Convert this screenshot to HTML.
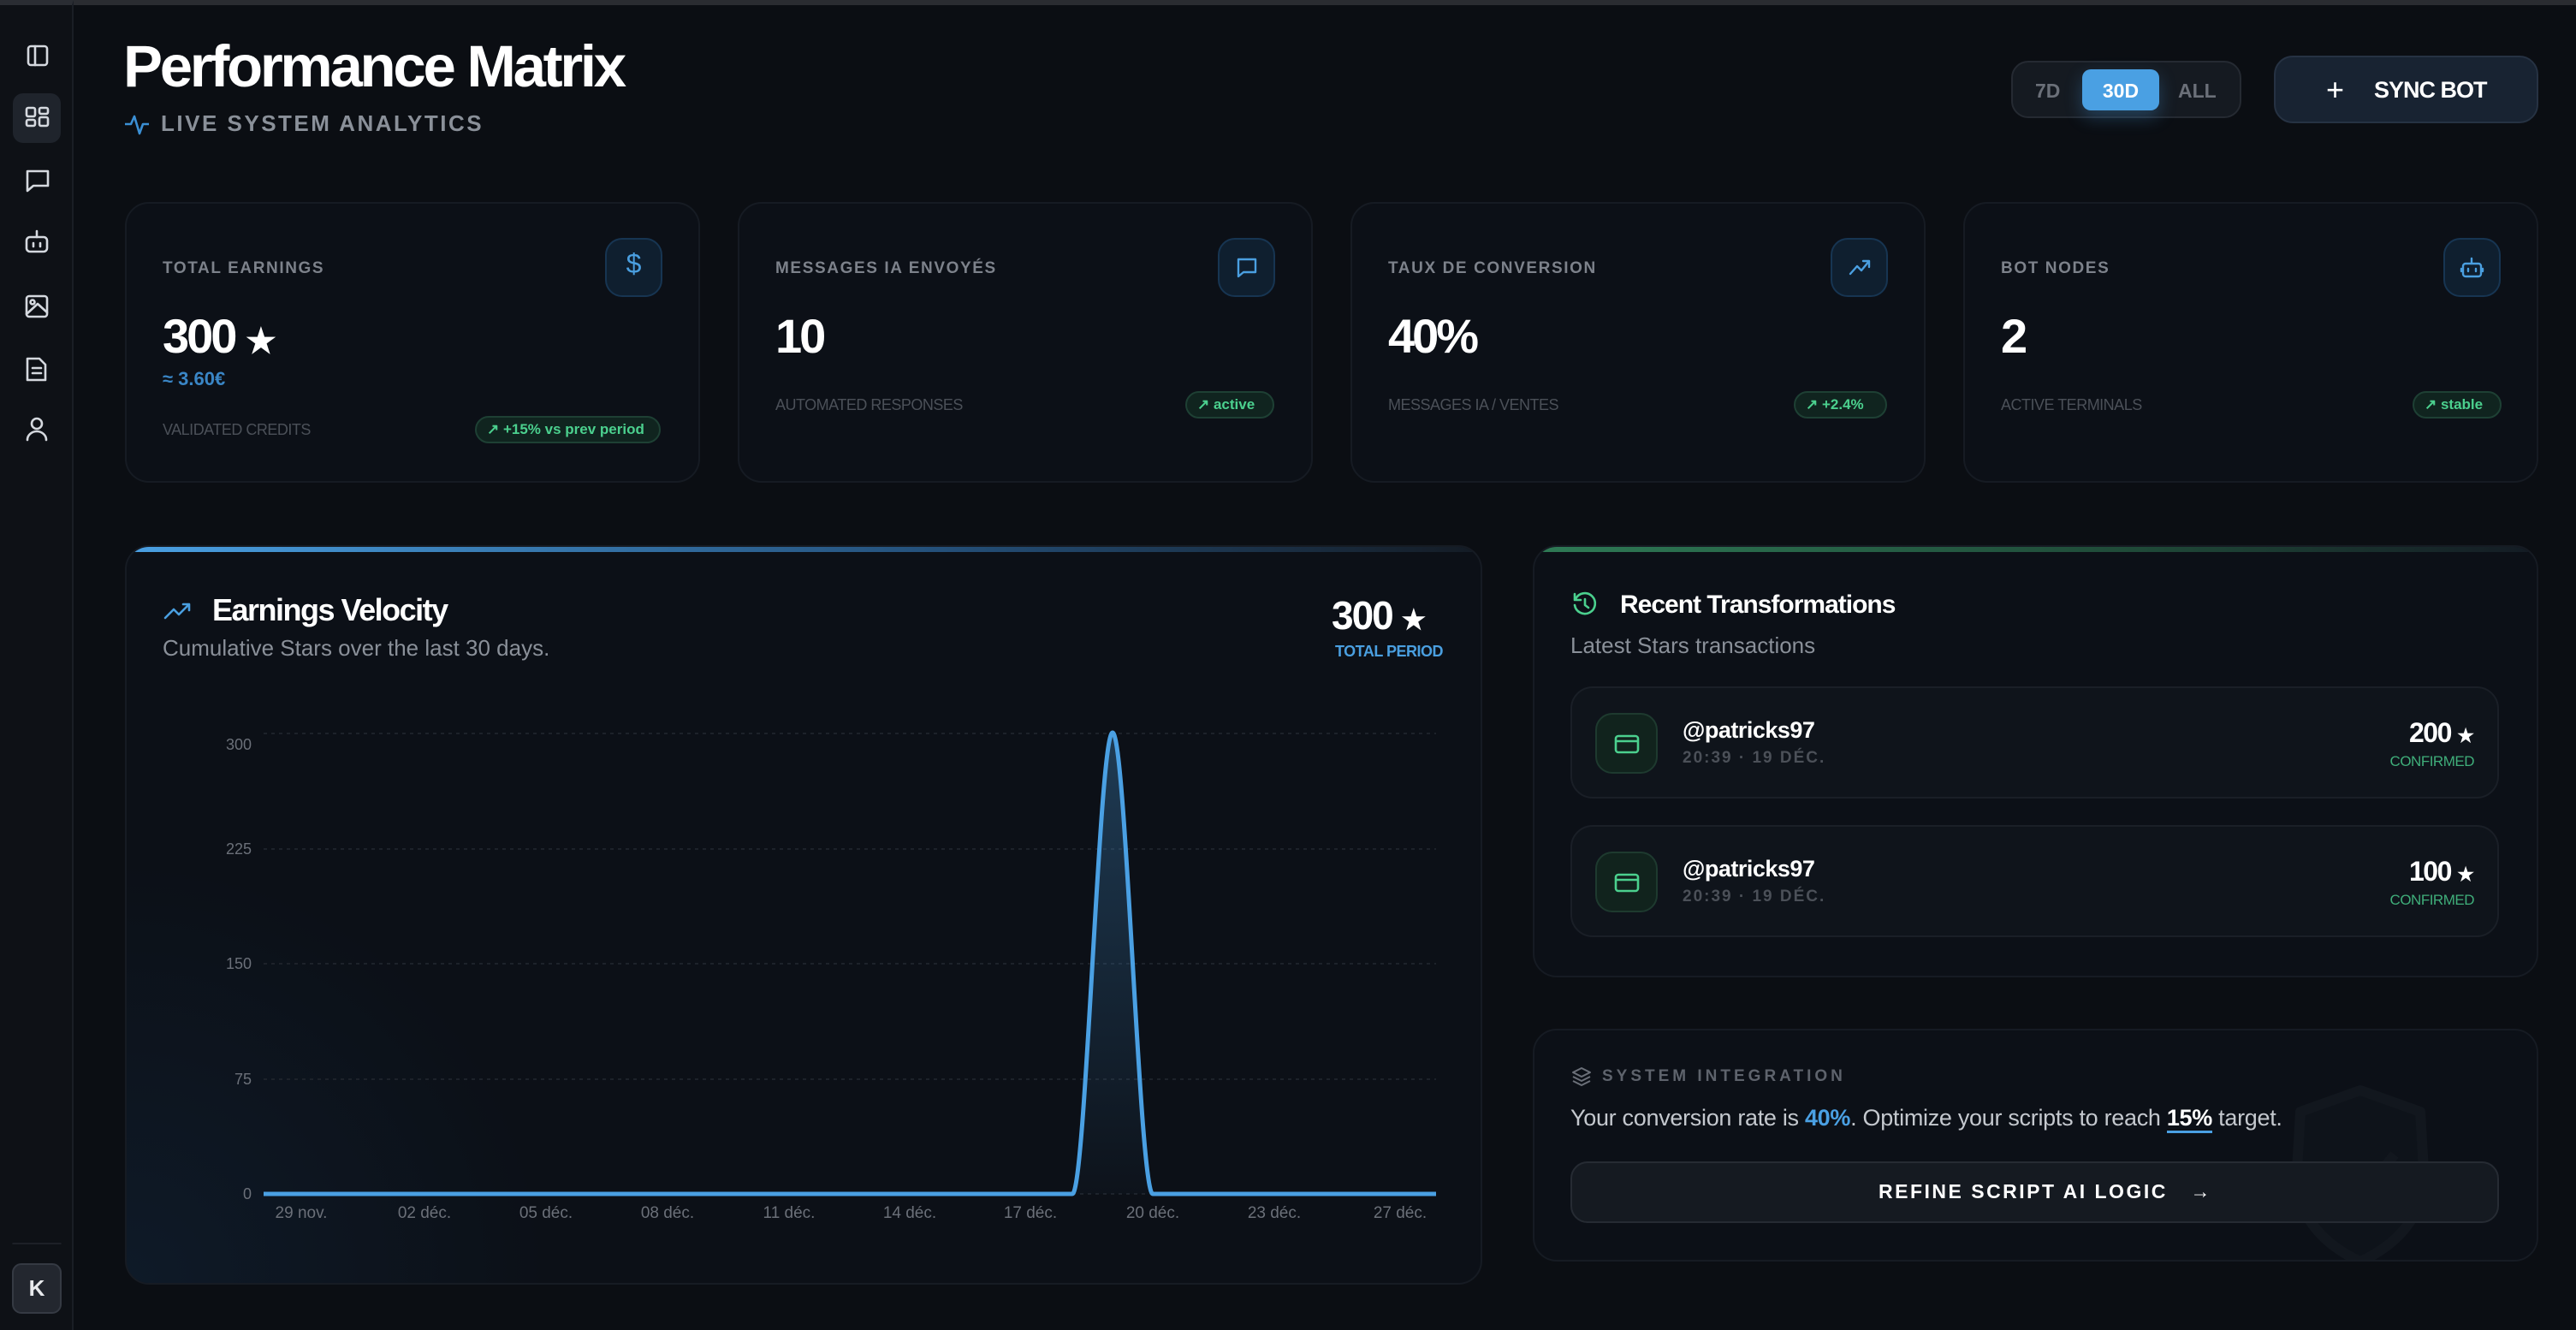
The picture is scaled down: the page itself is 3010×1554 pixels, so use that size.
<!DOCTYPE html>
<html><head><meta charset="utf-8"><style>
*{margin:0;padding:0;box-sizing:border-box}
body{width:3010px;height:1554px;background:#0b0e13;font-family:"Liberation Sans",sans-serif;position:relative;overflow:hidden;color:#fff}
.a{position:absolute}
.side{left:0;top:0;width:86px;height:1554px;background:#0e1116;border-right:2px solid #1a1e25;border-top:6px solid #2a2d33}
.topbar{left:0;top:0;width:3010px;height:6px;background:#2a2c31}
.card{position:absolute;background:#0c1017;border:2px solid #161b23;border-radius:28px}
.lbl{font-size:19px;font-weight:700;letter-spacing:1.6px;color:#7d828b}
.val{font-size:56px;font-weight:900;letter-spacing:-3px;color:#fff}
.foot{font-size:18px;color:#4b5058;letter-spacing:-0.5px}
.badge{position:absolute;height:32px;border-radius:16px;background:#10241f;border:2px solid #1e4034;color:#4bd08e;font-size:17px;font-weight:700;padding:0 12px;line-height:28px;white-space:nowrap}
.ib{position:absolute;width:67px;height:69px;border-radius:20px;background:#0f1f2f;border:2px solid #173552}
.tx{position:absolute;left:1835px;width:1085px;height:131px;background:#0f141b;border:2px solid #1a1f27;border-radius:26px}
</style></head><body>
<div class="a topbar"></div>
<div class="a side"></div>
<svg class="a" style="left:0;top:0" width="86" height="1554" fill="none" stroke="#d5d9df" stroke-width="2.6" stroke-linecap="round" stroke-linejoin="round">
<rect x="33" y="54" width="22" height="22" rx="3"/><line x1="41" y1="54" x2="41" y2="76"/>
<rect x="15" y="109" width="56" height="58" rx="12" fill="#1f242c" stroke="none"/>
<rect x="31" y="126" width="10" height="10" rx="2"/><rect x="46" y="126" width="10" height="7" rx="2"/><rect x="31" y="140" width="10" height="7" rx="2"/><rect x="46" y="137" width="10" height="10" rx="2"/>
<path d="M32 200 h24 v17 h-17 l-7 6 z"/>
<rect x="31" y="277" width="24" height="17" rx="4"/><line x1="43" y1="270" x2="43" y2="277"/><line x1="39" y1="284" x2="39" y2="288"/><line x1="47" y1="284" x2="47" y2="288"/>
<rect x="31" y="346" width="24" height="24" rx="3"/><circle cx="38" cy="353" r="2.5"/><path d="M31 367 l13-12 11 10"/>
<path d="M32 419 h14 l7 7 v18 h-21 z"/><line x1="38" y1="430" x2="48" y2="430"/><line x1="38" y1="436" x2="48" y2="436"/>
<circle cx="43" cy="495" r="6"/><path d="M32 514 a11 10 0 0 1 22 0"/>
<line x1="15" y1="1453" x2="71" y2="1453" stroke="#22262d" stroke-width="1.5"/>
<rect x="15" y="1477" width="56" height="57" rx="10" fill="#23272f" stroke="#353a43" stroke-width="2"/>
</svg>
<div class="a" style="left:15px;top:1477px;width:56px;height:57px;text-align:center;line-height:57px;font-size:26px;font-weight:700;color:#e8eaed">K</div>

<div class="a" style="left:144px;top:38px;font-size:69px;font-weight:900;letter-spacing:-3.3px;color:#fff">Performance Matrix</div>
<svg class="a" style="left:144px;top:130px" width="32" height="30" fill="none" stroke="#3b8fd4" stroke-width="2.6" stroke-linejoin="round"><path d="M2 15 h7 l4-9 6 20 4-11 h7"/></svg>
<div class="a" style="left:188px;top:129px;font-size:26px;font-weight:700;letter-spacing:2.5px;color:#8a9099">LIVE SYSTEM ANALYTICS</div>

<div class="a" style="left:2350px;top:71px;width:269px;height:67px;border-radius:20px;background:#151a21;border:2px solid #252a32"></div>
<div class="a" style="left:2433px;top:81px;width:90px;height:48px;border-radius:10px;background:#4aa0e3;box-shadow:0 8px 20px rgba(74,160,227,0.3)"></div>
<div class="a" style="left:2378px;top:93px;font-size:23px;font-weight:700;color:#6b7079">7D</div>
<div class="a" style="left:2433px;top:93px;width:90px;text-align:center;font-size:23px;font-weight:700;color:#fff">30D</div>
<div class="a" style="left:2545px;top:93px;font-size:23px;font-weight:700;color:#6b7079">ALL</div>
<div class="a" style="left:2657px;top:65px;width:309px;height:79px;border-radius:22px;background:#182332;border:2px solid #263243"></div>
<div class="a" style="left:2718px;top:84px;font-size:36px;color:#fff;font-weight:300">+</div>
<div class="a" style="left:2774px;top:90px;font-size:27px;font-weight:900;letter-spacing:-1px;color:#fff">SYNC BOT</div>

<div class="card" style="left:146px;top:236px;width:672px;height:328px"></div>
<div class="card" style="left:862px;top:236px;width:672px;height:328px"></div>
<div class="card" style="left:1578px;top:236px;width:672px;height:328px"></div>
<div class="card" style="left:2294px;top:236px;width:672px;height:328px"></div>

<div class="a lbl" style="left:190px;top:303px">TOTAL EARNINGS</div>
<div class="a lbl" style="left:906px;top:303px">MESSAGES IA ENVOYÉS</div>
<div class="a lbl" style="left:1622px;top:303px">TAUX DE CONVERSION</div>
<div class="a lbl" style="left:2338px;top:303px">BOT NODES</div>

<div class="ib" style="left:707px;top:278px"></div>
<div class="ib" style="left:1423px;top:278px"></div>
<div class="ib" style="left:2139px;top:278px"></div>
<div class="ib" style="left:2855px;top:278px"></div>
<div class="a" style="left:707px;top:290px;width:67px;text-align:center;font-size:32px;color:#4a9fe0">$</div>
<svg class="a" style="left:1423px;top:278px" width="67" height="69" fill="none" stroke="#4a9fe0" stroke-width="2.4" stroke-linejoin="round" stroke-linecap="round"><path d="M24 25 h20 v15 h-14 l-6 5 z"/></svg>
<svg class="a" style="left:2139px;top:278px" width="67" height="69" fill="none" stroke="#4a9fe0" stroke-width="2.4" stroke-linejoin="round" stroke-linecap="round"><path d="M23 42 l8-9 5 5 9-11 M38 27 h7 v7"/></svg>
<svg class="a" style="left:2855px;top:278px" width="67" height="69" fill="none" stroke="#4a9fe0" stroke-width="2.4" stroke-linejoin="round" stroke-linecap="round"><rect x="23" y="30" width="21" height="15" rx="3"/><path d="M33 24 v6 M29 36 v3 M38 36 v3 M21 36 v3 M46 36 v3"/></svg>

<div class="a val" style="left:190px;top:360px">300 <span style="font-size:40px;letter-spacing:0">★</span></div>
<div class="a val" style="left:906px;top:360px">10</div>
<div class="a val" style="left:1622px;top:360px">40%</div>
<div class="a val" style="left:2338px;top:360px">2</div>
<div class="a" style="left:190px;top:430px;font-size:22px;font-weight:700;color:#3a86c6">≈ 3.60€</div>

<div class="a foot" style="left:190px;top:492px">VALIDATED CREDITS</div>
<div class="a foot" style="left:906px;top:463px">AUTOMATED RESPONSES</div>
<div class="a foot" style="left:1622px;top:463px">MESSAGES IA / VENTES</div>
<div class="a foot" style="left:2338px;top:463px">ACTIVE TERMINALS</div>
<div class="badge" style="left:555px;top:486px;width:217px">↗ +15% vs prev period</div>
<div class="badge" style="left:1385px;top:457px;width:104px">↗ active</div>
<div class="badge" style="left:2096px;top:457px;width:109px">↗ +2.4%</div>
<div class="badge" style="left:2819px;top:457px;width:104px">↗ stable</div>

<div class="card" style="left:146px;top:637px;width:1586px;height:864px;overflow:hidden;background:radial-gradient(ellipse 700px 700px at 0% 100%,#0e1a28,#0c1017 70%)">
<div style="height:6px;background:linear-gradient(90deg,#4aa0e3,#24507a 60%,#141b24)"></div></div>
<svg class="a" style="left:190px;top:700px" width="36" height="28" fill="none" stroke="#4a9fe0" stroke-width="2.6" stroke-linejoin="round" stroke-linecap="round"><path d="M3 22 l10-10 6 6 12-12 M24 6 h7 v7"/></svg>
<div class="a" style="left:248px;top:692px;font-size:36px;font-weight:900;letter-spacing:-1.5px">Earnings Velocity</div>
<div class="a" style="left:190px;top:742px;font-size:26px;color:#8a9099">Cumulative Stars over the last 30 days.</div>
<div class="a" style="left:1556px;top:692px;font-size:46px;font-weight:900;letter-spacing:-2px">300 <span style="font-size:32px;letter-spacing:0">★</span></div>
<div class="a" style="left:1556px;top:751px;width:130px;text-align:right;font-size:18px;font-weight:700;color:#4a9fe0;letter-spacing:-0.5px">TOTAL PERIOD</div>

<svg class="a" style="left:0;top:0" width="3010" height="1554">
<defs><linearGradient id="g" x1="0" y1="0" x2="0" y2="1"><stop offset="0" stop-color="#4aa0e3" stop-opacity="0.3"/><stop offset="1" stop-color="#4aa0e3" stop-opacity="0.02"/></linearGradient></defs>
<g stroke="#1d222a" stroke-width="2" stroke-dasharray="4 5">
<line x1="308" y1="857" x2="1678" y2="857"/><line x1="308" y1="992" x2="1678" y2="992"/><line x1="308" y1="1126" x2="1678" y2="1126"/><line x1="308" y1="1261" x2="1678" y2="1261"/><line x1="308" y1="1395" x2="1678" y2="1395"/></g>
<path d="M1253,1395 C1268.7,1395 1284.3,856 1300,856 C1315.7,856 1331.3,1395 1347,1395 Z" fill="url(#g)"/>
<path d="M308,1395 H1253 C1268.7,1395 1284.3,856 1300,856 C1315.7,856 1331.3,1395 1347,1395 H1678" fill="none" stroke="#4aa0e3" stroke-width="5"/>
<g font-family="Liberation Sans" font-size="18" fill="#6b7079" text-anchor="end">
<text x="294" y="876">300</text><text x="294" y="998">225</text><text x="294" y="1132">150</text><text x="294" y="1267">75</text><text x="294" y="1401">0</text></g>
<g font-family="Liberation Sans" font-size="19" fill="#6b7079" text-anchor="middle">
<text x="352" y="1423">29 nov.</text><text x="496" y="1423">02 déc.</text><text x="638" y="1423">05 déc.</text><text x="780" y="1423">08 déc.</text><text x="922" y="1423">11 déc.</text><text x="1063" y="1423">14 déc.</text><text x="1204" y="1423">17 déc.</text><text x="1347" y="1423">20 déc.</text><text x="1489" y="1423">23 déc.</text><text x="1636" y="1423">27 déc.</text></g>
</svg>

<div class="card" style="left:1791px;top:637px;width:1175px;height:505px;overflow:hidden"><div style="height:6px;background:linear-gradient(90deg,#2e7a55,#1f4a38 60%,#141b24)"></div></div>
<svg class="a" style="left:1836px;top:690px" width="32" height="32" fill="none" stroke="#4bd08e" stroke-width="2.6" stroke-linecap="round" stroke-linejoin="round"><path d="M5 10 A12 12 0 1 1 4 17"/><path d="M4 4 v7 h7"/><path d="M16 10 v7 l4 3"/></svg>
<div class="a" style="left:1893px;top:690px;font-size:30px;font-weight:900;letter-spacing:-1px">Recent Transformations</div>
<div class="a" style="left:1835px;top:739px;font-size:26px;color:#8a9099">Latest Stars transactions</div>

<div class="tx" style="top:802px"></div>
<div class="tx" style="top:964px"></div>
<div class="a" style="left:1864px;top:833px;width:73px;height:71px;border-radius:20px;background:#11231d;border:2px solid #1e3a2f"></div>
<div class="a" style="left:1864px;top:995px;width:73px;height:71px;border-radius:20px;background:#11231d;border:2px solid #1e3a2f"></div>
<svg class="a" style="left:1864px;top:833px" width="73" height="233" fill="none" stroke="#4bd08e" stroke-width="2.6"><rect x="24" y="27" width="26" height="19" rx="3"/><line x1="24" y1="33" x2="50" y2="33"/><rect x="24" y="189" width="26" height="19" rx="3"/><line x1="24" y1="195" x2="50" y2="195"/></svg>
<div class="a" style="left:1966px;top:838px;font-size:27px;font-weight:700;letter-spacing:-0.5px">@patricks97</div>
<div class="a" style="left:1966px;top:875px;font-size:19px;font-weight:700;color:#4b5058;letter-spacing:2px">20:39 · 19 DÉC.</div>
<div class="a" style="left:1966px;top:1000px;font-size:27px;font-weight:700;letter-spacing:-0.5px">@patricks97</div>
<div class="a" style="left:1966px;top:1037px;font-size:19px;font-weight:700;color:#4b5058;letter-spacing:2px">20:39 · 19 DÉC.</div>
<div class="a" style="left:2700px;top:838px;width:191px;text-align:right;font-size:32px;font-weight:900;letter-spacing:-1.5px">200 <span style="font-size:22px;letter-spacing:0">★</span></div>
<div class="a" style="left:2700px;top:880px;width:191px;text-align:right;font-size:17px;color:#3fae7a;letter-spacing:-0.5px">CONFIRMED</div>
<div class="a" style="left:2700px;top:1000px;width:191px;text-align:right;font-size:32px;font-weight:900;letter-spacing:-1.5px">100 <span style="font-size:22px;letter-spacing:0">★</span></div>
<div class="a" style="left:2700px;top:1042px;width:191px;text-align:right;font-size:17px;color:#3fae7a;letter-spacing:-0.5px">CONFIRMED</div>

<div class="card" style="left:1791px;top:1202px;width:1175px;height:272px;overflow:hidden">
<svg style="position:absolute;left:880px;top:60px" width="170" height="220" fill="none" stroke="#12171e" stroke-width="12" stroke-linejoin="round"><path d="M85 10 L155 35 L160 120 Q150 180 85 210 Q20 180 10 120 L15 35 Z" fill="#0e131a"/><path d="M55 115 l25 25 45-55"/></svg></div>
<svg class="a" style="left:1834px;top:1245px" width="28" height="28" fill="none" stroke="#6b7079" stroke-width="2" stroke-linejoin="round"><path d="M14 3 l10 5 -10 5 -10-5 z M4 13 l10 5 10-5 M4 18 l10 5 10-5"/></svg>
<div class="a" style="left:1872px;top:1247px;font-size:19px;font-weight:700;color:#5e636c;letter-spacing:4px">SYSTEM INTEGRATION</div>
<div class="a" style="left:1835px;top:1291px;font-size:27px;color:#c4c8ce;letter-spacing:-0.3px">Your conversion rate is <b style="color:#4aa0e3">40%</b>. Optimize your scripts to reach <b style="color:#fff;border-bottom:3px solid #4aa0e3">15%</b> target.</div>
<div class="a" style="left:1835px;top:1357px;width:1085px;height:72px;border-radius:20px;background:#151a21;border:2px solid #262b33"></div>
<div class="a" style="left:2195px;top:1379px;font-size:23px;font-weight:700;letter-spacing:2.5px;color:#fff">REFINE SCRIPT AI LOGIC &nbsp; →</div>
</body></html>
